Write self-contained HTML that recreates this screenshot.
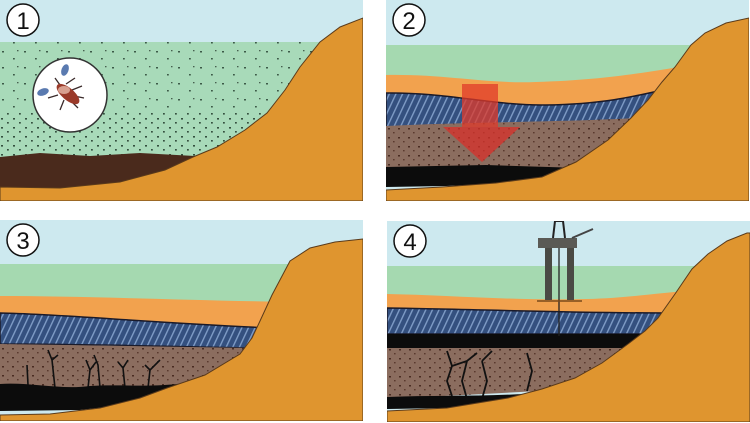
<!DOCTYPE html>
<html><head><meta charset="utf-8"><style>
html,body{margin:0;padding:0;background:#fff;width:750px;height:423px;overflow:hidden}
svg{display:block}
text{font-family:"Liberation Sans",sans-serif}
</style></head><body>
<svg width="750" height="423" viewBox="0 0 750 423" xmlns="http://www.w3.org/2000/svg">
<defs>
<pattern id="dots" width="22" height="16" patternUnits="userSpaceOnUse">
<rect x="2" y="3" width="2" height="1.5" fill="#3c5a48"/><rect x="13" y="10" width="1.8" height="1.5" fill="#3c5a48"/><rect x="17" y="2" width="1.5" height="1.3" fill="#46604f"/>
</pattern>
<pattern id="dots2" width="12" height="9" patternUnits="userSpaceOnUse">
<rect x="1" y="1" width="2" height="1.6" fill="#34503f"/><rect x="7" y="5" width="1.8" height="1.6" fill="#34503f"/>
</pattern>
<pattern id="hatch" width="6" height="8" patternUnits="userSpaceOnUse" patternTransform="rotate(25)">
<rect width="6" height="8" fill="#34507f"/><rect x="0" width="1.4" height="8" fill="#7f9cc6"/>
</pattern>
<pattern id="speck" width="10" height="9" patternUnits="userSpaceOnUse">
<rect width="10" height="9" fill="#8b6d5f"/><rect x="2" y="2" width="2" height="1.5" fill="#4a2c22"/><rect x="7" y="6" width="1.6" height="1.4" fill="#5a3a2e"/>
</pattern>
<clipPath id="c"><rect x="0" y="0" width="363" height="201"/></clipPath>
</defs>

<!-- Panel 1 -->
<g clip-path="url(#c)">
<rect width="363" height="201" fill="#cde9ef"/>
<rect y="42" width="363" height="160" fill="#a8dab9"/>
<rect y="42" width="363" height="70" fill="url(#dots)"/>
<rect y="112" width="363" height="50" fill="url(#dots2)"/>
<path d="M0,157 L40,153 L90,156 L140,153 L195,156 L210,175 L120,190 L0,190 Z" fill="#4a2a1c"/>
<polygon points="0,187 60,188 120,182 165,170 193,157 217,147 245,130 267,113 285,90 300,67 320,42 340,27 363,18 363,201 0,201" fill="#df952f" stroke="#5a3a1a" stroke-width="1"/>
<circle cx="70" cy="95" r="37" fill="#fff" stroke="#333" stroke-width="1.5"/>
<g stroke="#3a2a2a" stroke-width="1.3" fill="none">
<path d="M60,85 L55,78 M66,84 L75,78 M72,90 L82,86 M74,96 L84,98 M70,100 L78,108 M64,100 L60,110 M58,95 L48,98"/>
</g>
<ellipse cx="68" cy="94" rx="14" ry="6" transform="rotate(40 68 94)" fill="#9a3a2a"/>
<ellipse cx="64" cy="90" rx="6" ry="4" fill="#d8a090"/>
<ellipse cx="43" cy="92" rx="6" ry="3.5" transform="rotate(-20 43 92)" fill="#5a7ab0"/>
<ellipse cx="65" cy="70" rx="3.5" ry="6" transform="rotate(20 65 70)" fill="#5a7ab0"/>
<circle cx="23" cy="20" r="16" fill="#fff" stroke="#111" stroke-width="1.5"/>
<text x="23" y="29" font-size="24" text-anchor="middle" fill="#111">1</text>
</g>

<!-- Panel 2 -->
<g transform="translate(386,0)" clip-path="url(#c)">
<rect width="363" height="201" fill="#cde9ef"/>
<rect y="45" width="363" height="60" fill="#a5d9b0"/>
<path d="M0,75 C60,74 100,84 150,82 C220,80 260,72 300,66 L300,120 L0,120 Z" fill="#f2a24e"/>
<path d="M0,93 C60,92 110,106 160,105 C220,104 250,96 285,88 L250,120 L0,128 Z" fill="url(#hatch)" stroke="#1a1a2a" stroke-width="1.5"/>
<path d="M0,126 C80,122 180,122 250,118 L200,170 L0,170 Z" fill="url(#speck)"/>
<path d="M0,167 L100,165 L195,168 L150,182 L60,186 L0,187 Z" fill="#0c0c0c"/>
<polygon points="0,190 56,187 110,183 156,177 190,162 222,140 245,118 262,100 276,82 289,67 305,45 319,33 340,23 363,18 363,201 0,201" fill="#df952f" stroke="#5a3a1a" stroke-width="1"/>
<rect x="76" y="84" width="36" height="43" fill="#e03a2a" opacity="0.75"/>
<path d="M57,127 L134,127 L96,162 Z" fill="#d8302a" opacity="0.75"/>
<circle cx="23" cy="20" r="16" fill="#fff" stroke="#111" stroke-width="1.5"/>
<text x="23" y="29" font-size="24" text-anchor="middle" fill="#111">2</text>
</g>

<!-- Panel 3 -->
<g transform="translate(0,220)" clip-path="url(#c)">
<rect width="363" height="201" fill="#cde9ef"/>
<rect y="44" width="363" height="40" fill="#a5d9b0"/>
<path d="M0,76 C80,76 180,80 290,82 L290,115 L0,115 Z" fill="#f2a24e"/>
<path d="M0,93 C60,94 140,102 270,108 L245,128 C160,126 80,124 0,124 Z" fill="url(#hatch)" stroke="#1a1a2a" stroke-width="1.5"/>
<path d="M0,124 L250,128 L190,172 L0,175 Z" fill="url(#speck)"/>
<g stroke="#111" stroke-width="1.6" fill="none">
<path d="M28,165 L27,145 M55,168 L52,140 L48,130 M52,140 L58,135 M88,168 L90,150 L86,140 M90,150 L96,142 M100,168 L98,145 L94,135 M125,168 L123,148 L128,140 M123,148 L118,142 M148,168 L150,150 L160,140 M150,150 L145,145"/>
</g>
<path d="M0,164 C30,162 60,170 90,166 C120,164 150,168 185,163 L170,180 L80,190 L0,191 Z" fill="#0c0c0c"/>
<polygon points="0,195 50,194 100,188 140,178 167,168 205,155 240,134 252,118 260,101 272,75 290,41 310,28 335,22 363,19 363,201 0,201" fill="#df952f" stroke="#5a3a1a" stroke-width="1"/>
<circle cx="23" cy="20" r="16" fill="#fff" stroke="#111" stroke-width="1.5"/>
<text x="23" y="29" font-size="24" text-anchor="middle" fill="#111">3</text>
</g>

<!-- Panel 4 -->
<g transform="translate(387,221)" clip-path="url(#c)">
<rect width="363" height="201" fill="#cde9ef"/>
<rect y="45" width="363" height="40" fill="#a5d9b0"/>
<path d="M0,73 C60,74 130,80 200,78 C240,77 270,72 300,70 L300,110 L0,110 Z" fill="#f2a24e"/>
<path d="M0,87 C80,88 180,92 285,92 L270,113 L0,113 Z" fill="url(#hatch)" stroke="#1a1a2a" stroke-width="1.5"/>
<path d="M0,113 L268,113 L245,128 C160,130 80,128 0,127 Z" fill="#0c0c0c"/>
<path d="M0,127 L250,127 L190,168 L0,178 Z" fill="url(#speck)"/>
<g stroke="#111" stroke-width="1.8" fill="none">
<path d="M60,130 L65,145 L60,160 L65,175 M65,145 L80,140 L90,132 M80,140 L75,160 L80,178 M95,140 L105,130 M95,140 L100,160 L95,178 M140,132 L145,150 L140,170"/>
</g>
<path d="M0,176 C50,174 100,176 150,172 L120,180 L60,187 L0,188 Z" fill="#0c0c0c"/>
<polygon points="0,190 60,187 121,177 155,168 188,157 215,142 241,123 258,110 271,97 288,73 305,48 321,33 340,20 360,12 363,12 363,201 0,201" fill="#df952f" stroke="#5a3a1a" stroke-width="1"/>
<rect x="158" y="27" width="7" height="52" fill="#4a4a44"/>
<rect x="180" y="27" width="7" height="52" fill="#4a4a44"/>
<line x1="172" y1="20" x2="172" y2="115" stroke="#222" stroke-width="1.3"/>
<rect x="151" y="17" width="39" height="10" fill="#5a5a55"/>
<path d="M166,17 L168,0 L176,0 L178,17" fill="none" stroke="#222" stroke-width="2"/>
<line x1="185" y1="17" x2="206" y2="8" stroke="#444" stroke-width="2"/>
<path d="M150,80 L195,80" stroke="#7a4a1a" stroke-width="1.5"/>
<circle cx="23" cy="20" r="16" fill="#fff" stroke="#111" stroke-width="1.5"/>
<text x="23" y="29" font-size="24" text-anchor="middle" fill="#111">4</text>
</g>
</svg>
</body></html>
